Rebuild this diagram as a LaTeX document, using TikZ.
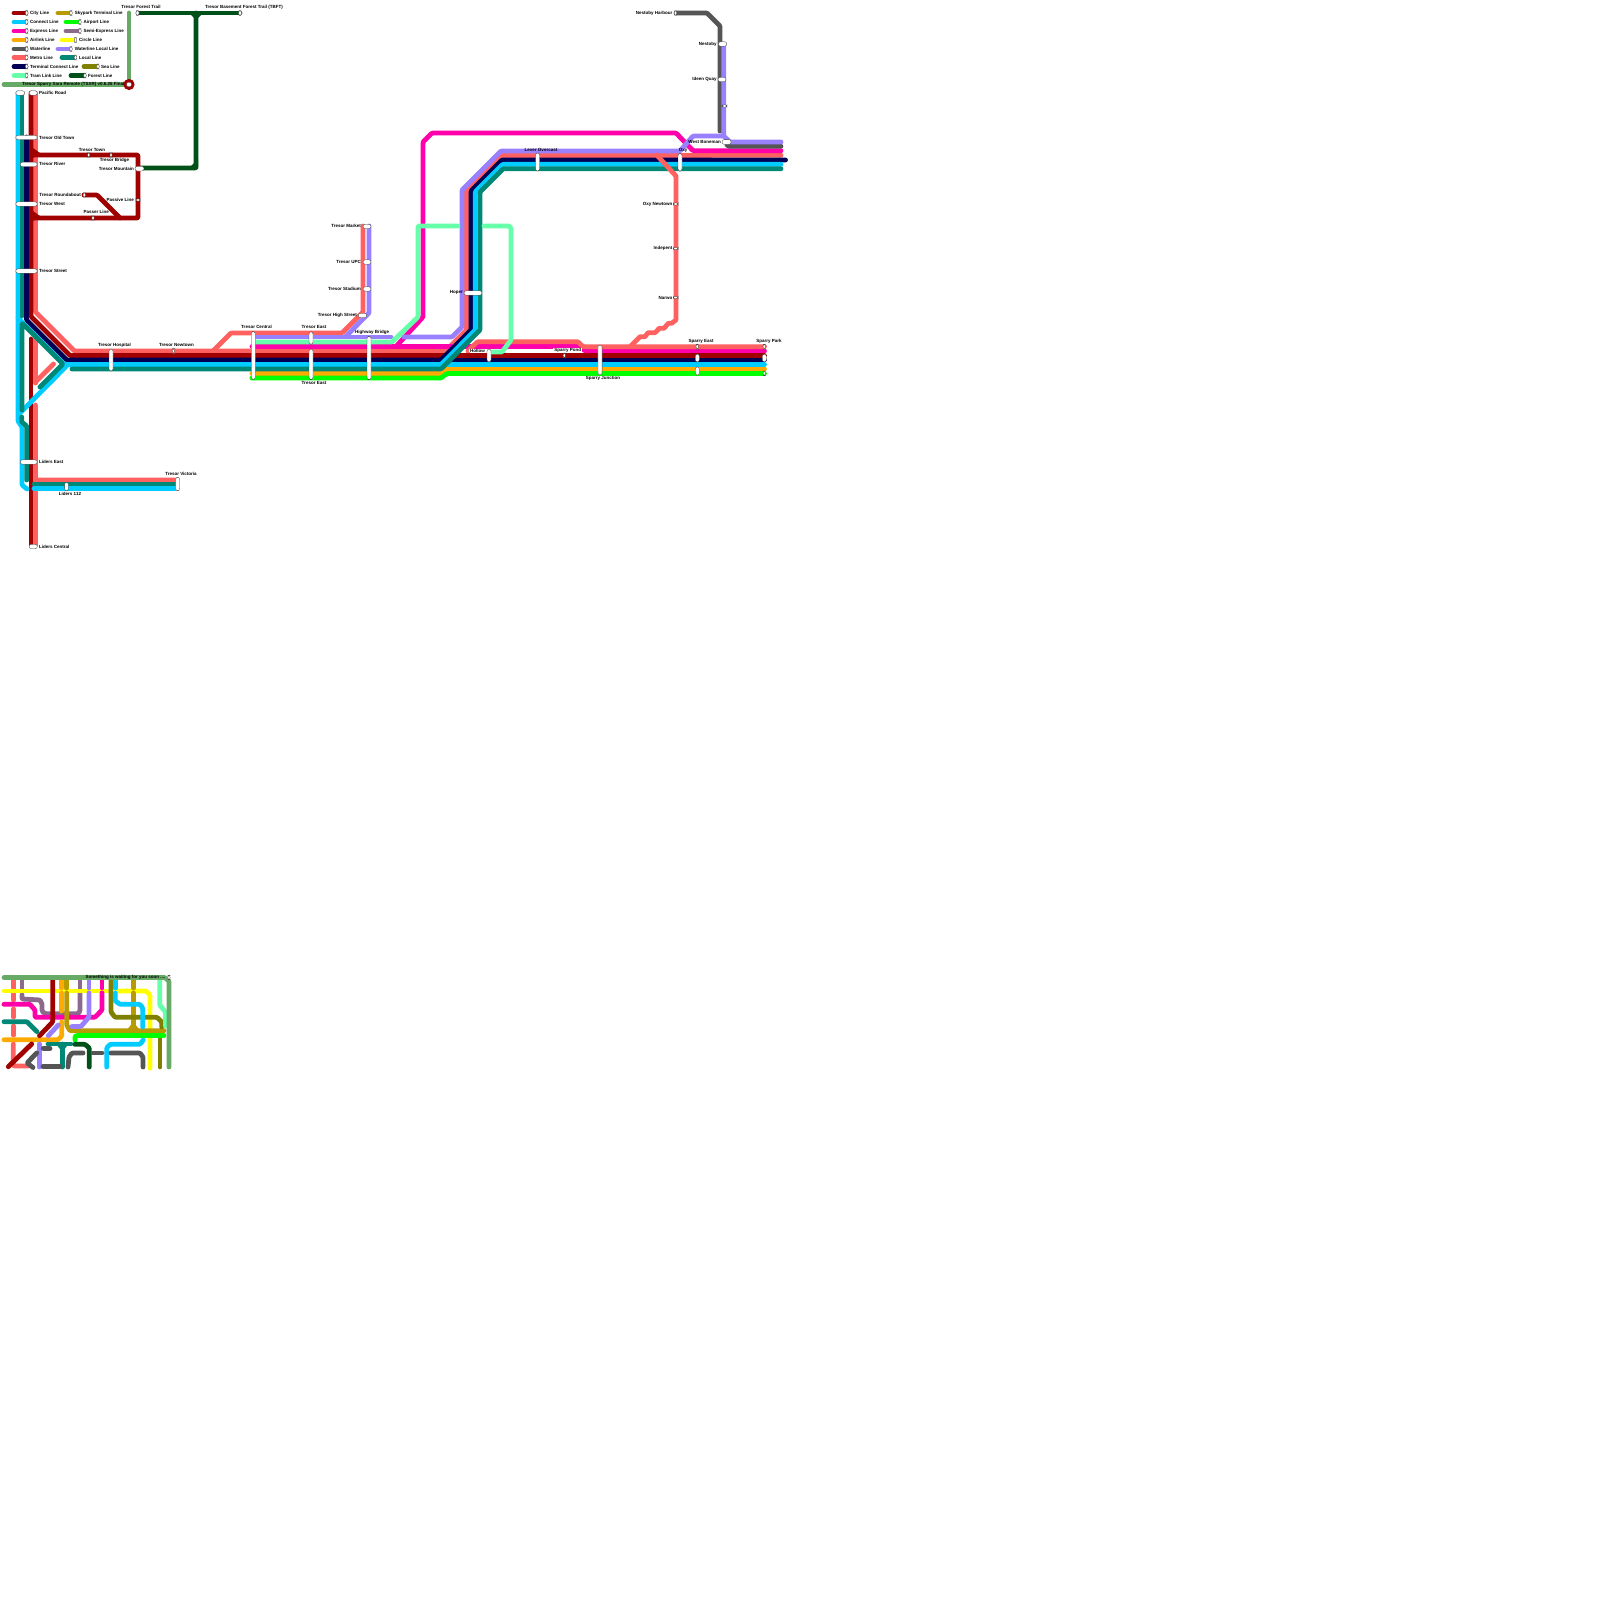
\documentclass[tikz,border=0pt]{standalone}
\usepackage{fontspec}
\setmainfont{Liberation Sans}
\definecolor{cCity}{HTML}{A00000}
\definecolor{cConn}{HTML}{00CCFF}
\definecolor{cExpr}{HTML}{FF00AA}
\definecolor{cAirl}{HTML}{FFAA00}
\definecolor{cWate}{HTML}{555555}
\definecolor{cMetr}{HTML}{FF6060}
\definecolor{cTerm}{HTML}{000055}
\definecolor{cTram}{HTML}{66FFAA}
\definecolor{cSky}{HTML}{B89B00}
\definecolor{cAirp}{HTML}{00FF00}
\definecolor{cSemi}{HTML}{8B6A8B}
\definecolor{cCirc}{HTML}{FFFF00}
\definecolor{cWloc}{HTML}{9980FF}
\definecolor{cLoca}{HTML}{008877}
\definecolor{cSea}{HTML}{808000}
\definecolor{cFore}{HTML}{00501A}
\definecolor{cTitl}{HTML}{66AA66}
\tikzset{
  ln/.style={line width=4.8pt,line cap=round,line join=round,rounded corners=1pt},
  stn/.style={draw=black!75,line width=0.3pt,fill=white,inner sep=0pt,outer sep=0pt,rounded corners=2.2pt},
  lab/.style={font=\fontsize{4.5}{4.5}\selectfont\bfseries,inner sep=0pt,text=black},
}
\newcommand\stn[5]{\node[stn,minimum width=#4pt,minimum height=#5pt] (#1) at (#2,#3) {};}
\newcount\labn
\newcommand\lab[4]{\global\advance\labn by 1 \node[lab,anchor=#3] (l\number\labn) at (#1,#2) {#4};}
\begin{document}
\begin{tikzpicture}[x=1pt,y=-1pt]
\path[fill=white] (0,0) rectangle (1600,1600);
\useasboundingbox (0,0) rectangle (1600,1600);
% ---------- title and forest
\draw[ln,cTitl] (4,84.5)--(129,84.5);
\draw[ln,cTitl] (129,13)--(129,84);
\draw[ln,cFore] (138,13)--(240,13);
\draw[ln,cFore] (196,13)--(196,168)--(140,168);
\fill[cFore] (189,13)--(196,20)--(203,13)--cycle;
\fill[cFore] (188,169)--(198,169)--(198,159)--cycle;
% ---------- metro underlays
\draw[ln,cMetr] (35.4,93)--(35.4,312)--(74.4,351)--(445.5,351)--(466.5,330)--(466.5,190.5)--(501.5,155.5)--(781,155.3);
\draw[ln,cMetr] (213,351)--(231,333)--(342,333)--(363,312)--(363,226);
\draw[ln,cMetr] (35.4,339)--(35.4,383);
\draw[ln,cMetr] (35.4,382)--(53.5,364);
\draw[ln,cMetr] (35.4,405)--(35.4,480)--(175,480);
\draw[ln,cMetr] (35.4,480)--(35.4,545);
% ---------- express
\draw[ln,cExpr] (252,346.5)--(580,346.5)--(585,351)--(764.5,351);
\draw[ln,cExpr] (396,346.5)--(423,317)--(423,142)--(432,133)--(676,133)--(693,150.7)--(781,150.7);
% ---------- second metro strand
\draw[ln,cMetr] (468,351)--(477.5,341.7)--(578,341.7)--(583,346.7)--(764.5,346.7);
% ---------- city
\draw[ln,cCity] (31,93)--(31,316.5)--(70,355.5)--(764.5,355.5);
\draw[ln,cCity] (31,339)--(31,545);
\draw[ln,cCity] (31,155)--(138,155)--(138,218)--(31,218);
\draw[ln,cCity] (84,195)--(97,195)--(120,218);
\fill[cCity] (33,148)--(33,158)--(40,153)--cycle;
\fill[cCity] (33,211)--(33,221)--(40,216)--cycle;
% ---------- waterline
\draw[ln,cWate] (676,13)--(707,13)--(720,26)--(720,131);
\draw[ln,cWate] (727,145)--(729,146.3)--(781,146.3);
% ---------- waterline local
\draw[ln,cWloc] (369,226)--(369,313)--(345.5,336.7);
\draw[ln,cWloc] (256,337)--(391,337);
\draw[ln,cWloc] (404,337)--(452,337)--(462,327)--(462,190)--(501,151)--(680,151)--(693,136)--(723.7,136)--(723.7,44);
\draw[ln,cWloc] (723.7,136)--(730,142)--(781,142);
% ---------- navy
\draw[ln,cTerm] (26.5,137)--(26.5,320)--(66.7,360)--(441,360)--(471,330)--(471,191)--(502,160)--(785.5,160);
\draw[ln,cTerm] (441,360)--(764.5,360);
% ---------- airlink, airport
\draw[ln,cAirl] (252,373.5)--(441,373.5)--(447,369)--(764.5,369);
\draw[ln,cAirp] (252,378)--(441,378)--(447,373.5)--(764.5,373.5);
% ---------- connect
\draw[ln,cConn] (18,93)--(18,318)--(64.5,364.5)--(441,364.5)--(475.3,330)--(475.3,191.7)--(502.7,164.3)--(781,164.3);
\draw[ln,cConn] (441,364.5)--(764.5,364.5);
\draw[ln,cConn] (68,364.5)--(20,413);
\draw[ln,cConn] (18,318)--(18,421)--(22,427)--(22,485)--(27,489);
\draw[ln,cConn] (34,488.7)--(175,488.7);
% ---------- local
\draw[ln,cLoca] (22,93)--(22,316);
\draw[ln,cLoca] (22,410)--(22,323)--(63,364)--(40,387);
\draw[ln,cLoca] (72,369)--(441,369)--(480,330)--(480,192)--(503.3,168.7)--(781,168.7);
\draw[ln,cLoca] (21.7,417)--(21.7,422)--(26.7,426)--(26.7,480);
\draw[ln,cLoca] (34,484)--(175,484);
% ---------- tram link
\draw[ln,cTram] (254,342)--(392,342)--(418,317)--(418,226)--(458,226);
\draw[ln,cTram] (484,226)--(509,226)--(511,228)--(511,340)--(502,352)--(490,352);
% ---------- metro branch
\draw[ln,cMetr,rounded corners=0.5pt] (656.7,155)--(676,176)--(676,320)--(671.7,323.3)--(668.3,323.3)--(664,328.3)--(659.3,328.3)--(655,332.7)--(648,332.7)--(645,336.7)--(640,336.7)--(630.7,346);
% ---------- minimap
\draw[ln,cMetr] (13.3,980)--(13.3,988);
\draw[ln,cMetr] (13.3,994)--(13.3,1000);
\draw[ln,cMetr] (13.3,1009)--(13.3,1017);
\draw[ln,cMetr] (13.3,1026)--(13.3,1035);
\draw[ln,cMetr] (13.3,1044)--(13.3,1066)--(28,1066);
\draw[ln,cSemi] (22,980)--(22,988);
\draw[ln,cSemi] (22,995)--(22,999)--(40,1000)--(42,1004)--(42,1011)--(45,1013.7)--(78,1013.7)--(80,1011)--(80,993);
\draw[ln,cSemi] (80,980)--(80,988);
\draw[ln,cCirc] (4,991)--(108,991);
\draw[ln,cCirc] (117,991)--(146,991)--(150,995)--(150,1068);
\draw[ln,cExpr] (4,1004.3)--(30,1004.3)--(35,1010)--(35,1017.3)--(95,1017.3)--(102,1010)--(102,993);
\draw[ln,cExpr] (102,980)--(102,988);
\draw[ln,cAirl] (61.7,980)--(61.7,988);
\draw[ln,cAirl] (61.7,993)--(61.7,1011);
\draw[ln,cAirl] (61.7,1022)--(61.7,1036)--(58,1039.7)--(4,1039.7);
\draw[ln,cCity] (52.7,980)--(52.7,1022)--(39.5,1035.7);
\draw[ln,cCity] (31.7,1044)--(8.3,1066.7);
\draw[ln,cSky] (66.7,980)--(66.7,988);
\draw[ln,cSky] (66.7,993)--(66.7,1025)--(70,1030.7)--(164,1030.7);
\draw[ln,cSky] (133.3,980)--(133.3,988);
\draw[ln,cSky] (133.3,993)--(133.3,1030);
\fill[cSky] (126,1031)--(133.3,1022)--(140.6,1031)--cycle;
\draw[ln,cWloc] (89,980)--(89,988);
\draw[ln,cWloc] (89,993)--(89,1017)--(81,1026.5)--(72,1026.5);
\draw[ln,cWloc] (58.3,1025)--(48.3,1035.7);
\draw[ln,cWloc] (39.3,1044)--(39.3,1067);
\draw[ln,cLoca] (4,1021.7)--(27,1021.7)--(37,1031.7);
\draw[ln,cLoca] (48,1044)--(71,1044);
\draw[ln,cLoca] (62.3,1044)--(62.3,1067);
\fill[cLoca] (56,1044)--(62.3,1052)--(68.6,1044)--cycle;
\draw[ln,cSea] (111,980)--(111,1012)--(115,1017.3)--(157,1017.3)--(161.7,1022)--(161.7,1027);
\draw[ln,cSea] (160,1039)--(160,1067);
\draw[ln,cConn] (115.3,980)--(115.3,988);
\draw[ln,cConn] (115.3,993)--(115.3,1001)--(120,1004.3)--(140,1004.3)--(142.7,1008)--(142.7,1027);
\draw[ln,cConn] (106.7,1067)--(106.7,1048)--(110,1044.3)--(140,1044.3)--(143.3,1040);
\draw[ln,cAirp] (75,1040)--(75,1036)--(78,1035.5)--(164,1035.5);
\draw[ln,cFore] (75,1044.3)--(85,1044.3)--(89.3,1048)--(89.3,1067);
\draw[ln,cWate] (43.3,1048.3)--(50,1048.3);
\draw[ln,cWate] (36.7,1053)--(27,1063)--(33,1067.5);
\draw[ln,cWate] (43,1066.7)--(60,1066.7);
\draw[ln,cWate] (68,1067)--(69,1057)--(72,1053)--(83,1053);
\draw[ln,cWate] (93,1053)--(102,1053);
\draw[ln,cWate] (111,1053)--(140,1053)--(143,1057)--(143,1067);
\draw[ln,cTram] (159.7,980)--(159.7,1005)--(165.5,1012)--(165.5,1026);
\draw[ln,cTitl] (4,977.5)--(165,977.5)--(169,981)--(169,1067);
% ---------- legend
\draw[ln,cCity] (14,13)--(26,13);
\draw[ln,cConn] (14,22)--(26,22);
\draw[ln,cExpr] (14,31)--(26,31);
\draw[ln,cAirl] (14,40)--(26,40);
\draw[ln,cWate] (14,49)--(26,49);
\draw[ln,cMetr] (14,57.5)--(26,57.5);
\draw[ln,cTerm] (14,66.5)--(26,66.5);
\draw[ln,cTram] (14,75.5)--(26,75.5);
\draw[ln,cSky] (58,13)--(70,13);
\draw[ln,cAirp] (66,22)--(79,22);
\draw[ln,cSemi] (66,31)--(79,31);
\draw[ln,cCirc] (62,40)--(74,40);
\draw[ln,cWloc] (58,49)--(70,49);
\draw[ln,cLoca] (62,57.5)--(74,57.5);
\draw[ln,cSea] (84,66.5)--(97,66.5);
\draw[ln,cFore] (71,75.5)--(84,75.5);
\stn{e1}{26.7}{13}{2.6}{5}\stn{e2}{26.7}{22}{2.6}{5}\stn{e3}{26.7}{31}{2.6}{5}\stn{e4}{26.7}{40}{2.6}{5}
\stn{e5}{26.7}{49}{2.6}{5}\stn{e6}{26.7}{57.5}{2.6}{5}\stn{e7}{26.7}{66.5}{2.6}{5}\stn{e8}{26.7}{75.5}{2.6}{5}
\stn{e9}{71}{13}{2.6}{5}\stn{e10}{80}{22}{2.6}{5}\stn{e11}{80}{31}{2.6}{5}\stn{e12}{75.5}{40}{2.6}{5}
\stn{e13}{71}{49}{2.6}{5}\stn{e14}{75.5}{57.5}{2.6}{5}\stn{e15}{98}{66.5}{2.6}{5}\stn{e16}{85}{75.5}{2.6}{5}
\lab{30}{13}{west}{City Line}\lab{30}{22}{west}{Connect Line}\lab{30}{31}{west}{Express Line}\lab{30}{40}{west}{Airlink Line}
\lab{30}{49}{west}{Waterline}\lab{30}{57.5}{west}{Metro Line}\lab{30}{66.5}{west}{Terminal Connect Line}\lab{30}{75.5}{west}{Tram Link Line}
\lab{74.7}{13}{west}{Skypark Terminal Line}\lab{83.5}{22}{west}{Airport Line}\lab{83.5}{31}{west}{Semi-Express Line}\lab{79}{40}{west}{Circle Line}
\lab{74.7}{49}{west}{Waterline Local Line}\lab{79}{57.5}{west}{Local Line}\lab{101}{66.5}{west}{Sea Line}\lab{88}{75.5}{west}{Forest Line}
% ---------- title station
\path[fill=cCity] (129,84.5) circle (5.6);
\stn{ts}{129}{84.5}{5}{4.6}
\lab{124.5}{84.5}{east}{Tresor Sparry Xara Remote (TSXR) v0.6.26 Final}
\stn{sFT}{137.5}{13}{3}{5}\lab{141}{7}{center}{Tresor Forest Trail}
\stn{sBT}{240}{13}{3}{5}\lab{205}{7}{west}{Tresor Basement Forest Trail (TBFT)}
% ---------- stations, left
\stn{sPa}{20.3}{93}{9}{4.4}\stn{sPb}{33.2}{93}{8.2}{4.4}\lab{39}{93}{west}{Pacific Road}
\stn{sOT}{26.5}{137.5}{21.5}{4.4}\lab{39}{137.5}{west}{Tresor Old Town}
\stn{sRi}{28.7}{164.3}{17}{4.4}\lab{39}{164}{west}{Tresor River}
\stn{sWe}{26.5}{204}{21.5}{4.4}\lab{39}{204}{west}{Tresor West}
\stn{sSt}{26.5}{271}{21.5}{4.4}\lab{39}{271}{west}{Tresor Street}
\stn{sTo}{88.7}{155}{2.4}{4.4}\lab{92}{149.5}{center}{Tresor Town}
\stn{sBr}{111}{155}{2.4}{4.4}\lab{114.5}{160.5}{center}{Tresor Bridge}
\stn{sMo}{139.5}{168.7}{9}{4.6}\lab{134}{168.5}{east}{Tresor Mountain}
\stn{sPv}{138}{200}{4.6}{2.4}\lab{134}{199.5}{east}{Passive Line}
\stn{sRo}{84.3}{195}{2.6}{4.6}\lab{81}{195}{east}{Tresor Roundabout}
\stn{sPs}{93}{218}{2.4}{4.6}\lab{109}{211.5}{east}{Passer Line}
\stn{sLE}{28.7}{462}{17}{4.4}\lab{39}{461.5}{west}{Liders East}
\stn{sL1}{66.5}{486.5}{3.8}{8.5}\lab{70}{494}{center}{Liders 112}
\stn{sVi}{177.7}{484}{4}{13.5}\lab{181}{474}{center}{Tresor Victoria}
\stn{sLC}{33.2}{546.5}{8.2}{4.4}\lab{39}{546.5}{west}{Liders Central}
\stn{sHo}{111}{360}{4}{22}\lab{114.5}{345}{center}{Tresor Hospital}
\stn{sNe}{173.5}{351}{2.2}{4.8}\lab{176.5}{345}{center}{Tresor Newtown}
% ---------- stations, centre
\stn{sCe}{253.3}{355.5}{4}{47.8}\lab{256.5}{327}{center}{Tresor Central}
\stn{sEa}{311}{338}{4}{12.4}\stn{sEb}{311}{364.3}{4}{30.6}\lab{314}{327}{center}{Tresor East}\lab{314}{383}{center}{Tresor East}
\stn{sHi}{369}{358}{4}{43.5}\lab{372}{332}{center}{Highway Bridge}
\stn{sMa}{367}{226.5}{8}{4.4}\lab{361}{226}{east}{Tresor Market}
\stn{sUP}{367}{262}{8}{4.4}\lab{361}{261.5}{east}{Tresor UPC}
\stn{sSd}{367}{289}{8}{4.4}\lab{361}{288.5}{east}{Tresor Stadium}
\stn{sHS}{362.5}{315.5}{8.5}{4.4}\lab{357}{315}{east}{Tresor High Street}
\stn{sHp}{473}{293}{18}{4.4}\lab{463}{292.8}{east}{Hoper}
\node[lab,fill=white,inner xsep=1pt,anchor=east] (lHol) at (486,350.5) {Hollow};
\stn{sHl}{489}{355.5}{4}{13}
\node[lab,fill=white,inner xsep=1pt,anchor=center] (lPond) at (567.7,350) {Sparry Pond};
\stn{sPo}{564.3}{355.5}{2.2}{4.8}
\stn{sLv}{537.5}{162}{4}{18}\lab{541}{149.5}{center}{Lever Overcast}
\stn{sJu}{600}{360}{4.2}{30}\lab{603}{378.5}{center}{Sparry Junction}
\stn{sE1}{697.3}{346.7}{2.6}{4.8}\stn{sE2}{697.3}{358}{4}{7.8}\stn{sE3}{697.3}{371}{4}{8.3}\lab{701}{341}{center}{Sparry East}
\stn{sK1}{764.3}{346.7}{2.6}{4.8}\stn{sK2}{764.3}{358}{4}{7.8}\stn{sK3}{764.3}{373.3}{2.6}{4.6}\lab{769}{341}{center}{Sparry Park}
% ---------- stations, right
\stn{sOx}{680}{162.3}{4}{17.6}\lab{683}{150}{center}{Oxy}
\stn{sON}{675.7}{204}{4.8}{2.4}\lab{672.5}{204}{east}{Oxy Newtown}
\stn{sIn}{675.7}{248.5}{4.8}{2.4}\lab{672.5}{248.5}{east}{Indepent}
\stn{sNa}{675.7}{297.5}{4.8}{2.4}\lab{672.5}{297.5}{east}{Narwo}
\stn{sNH}{675.5}{13}{2.6}{4.6}\lab{672.5}{13}{east}{Nestoby Harbour}
\stn{sNs}{722.5}{44}{8.5}{4.4}\lab{716.7}{44}{east}{Nestoby}
\stn{sIQ}{722}{79.5}{8}{4.4}\lab{716.7}{79.5}{east}{Ideen Quay}
\stn{sTk}{724.5}{106}{4.8}{2.4}
\stn{sWB}{726.5}{142}{9}{4.8}\lab{721}{141.7}{east}{West Boneman}
% ---------- end stations, minimap
\stn{sSo}{169}{977.5}{2.4}{4.6}
\lab{165.5}{977.5}{east}{Something is waiting for you soon ....}
\end{tikzpicture}
\end{document}
